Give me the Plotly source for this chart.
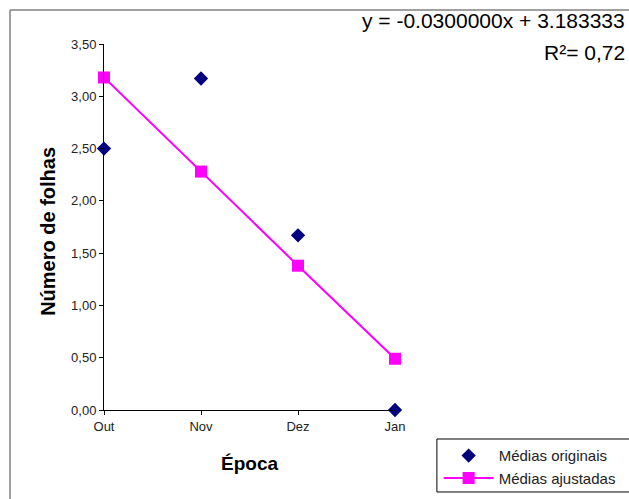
import plotly.graph_objects as go

categories = ["Out", "Nov", "Dez", "Jan"]
originais = [2.50, 3.17, 1.67, 0.00]
ajustadas = [3.18, 2.28, 1.38, 0.49]
y_ticks = [0, 0.5, 1.0, 1.5, 2.0, 2.5, 3.0, 3.5]

FONT = "Liberation Sans, Arial, sans-serif"

fig = go.Figure()
fig.add_trace(go.Scatter(
    x=categories, y=originais, mode="markers", name="Médias originais",
    marker=dict(symbol="diamond", color="#000080", size=11),
    cliponaxis=False,
))
fig.add_trace(go.Scatter(
    x=categories, y=ajustadas, mode="lines+markers", name="Médias ajustadas",
    marker=dict(symbol="square", color="#FF00FF", size=12),
    line=dict(color="#FF00FF", width=2),
    cliponaxis=False,
))

fig.update_layout(
    width=629, height=499,
    margin=dict(l=104, r=234, t=44, b=89, autoexpand=False),
    paper_bgcolor="white", plot_bgcolor="white",
    separators=",.",
    font=dict(family=FONT, size=13, color="#222222"),
    xaxis=dict(
        type="category", range=[0, 3], showgrid=False, zeroline=False,
        showline=True, linecolor="black", linewidth=1,
        ticks="outside", ticklen=4, tickcolor="black",
        tickfont=dict(size=13, color="#222222"),
    ),
    yaxis=dict(
        range=[0, 3.5], tickvals=y_ticks, tickformat=".2f",
        showgrid=False, zeroline=False,
        showline=True, linecolor="black", linewidth=1,
        ticks="outside", ticklen=4, tickcolor="black",
        tickfont=dict(size=13, color="#222222"),
    ),
    legend=dict(
        x=1.15, y=-0.08, xanchor="left", yanchor="top",
        borderwidth=0, bgcolor="rgba(0,0,0,0)",
        font=dict(size=15, color="#222222", family=FONT),
        tracegroupgap=0, itemwidth=50,
    ),
    showlegend=True,
    shapes=[
        dict(type="line", xref="paper", yref="paper", x0=-0.323, x1=-0.323, y0=1.093, y1=-0.3,
             line=dict(color="#808080", width=1.5)),
        dict(type="line", xref="paper", yref="paper", x0=-0.323, x1=1.85, y0=1.093, y1=1.093,
             line=dict(color="#808080", width=1.5)),
        dict(type="rect", xref="paper", yref="paper", x0=1.144, x1=1.842, y0=-0.0792, y1=-0.224,
             line=dict(color="black", width=1)),
    ],
    annotations=[
        dict(text="Número de folhas", xref="paper", yref="paper", x=-0.193, y=0.489,
             textangle=-90, showarrow=False, xanchor="center", yanchor="middle",
             font=dict(size=20, color="black", family=FONT, weight="bold")),
        dict(text="Época", xref="paper", yref="paper", x=0.5, y=-0.145,
             showarrow=False, xanchor="center", yanchor="middle",
             font=dict(size=19, color="black", family=FONT, weight="bold")),
        dict(text="y = -0.0300000x + 3.183333", xref="paper", yref="paper", x=1.797, y=1.063,
             showarrow=False, xanchor="right", yanchor="middle",
             font=dict(size=21, color="black", family=FONT)),
        dict(text="R²= 0,72", xref="paper", yref="paper", x=1.797, y=0.978,
             showarrow=False, xanchor="right", yanchor="middle",
             font=dict(size=21, color="black", family=FONT)),
    ],
)

fig.write_html("out.html", config={"displayModeBar": False},
               post_script="document.body.style.margin='0px';")
